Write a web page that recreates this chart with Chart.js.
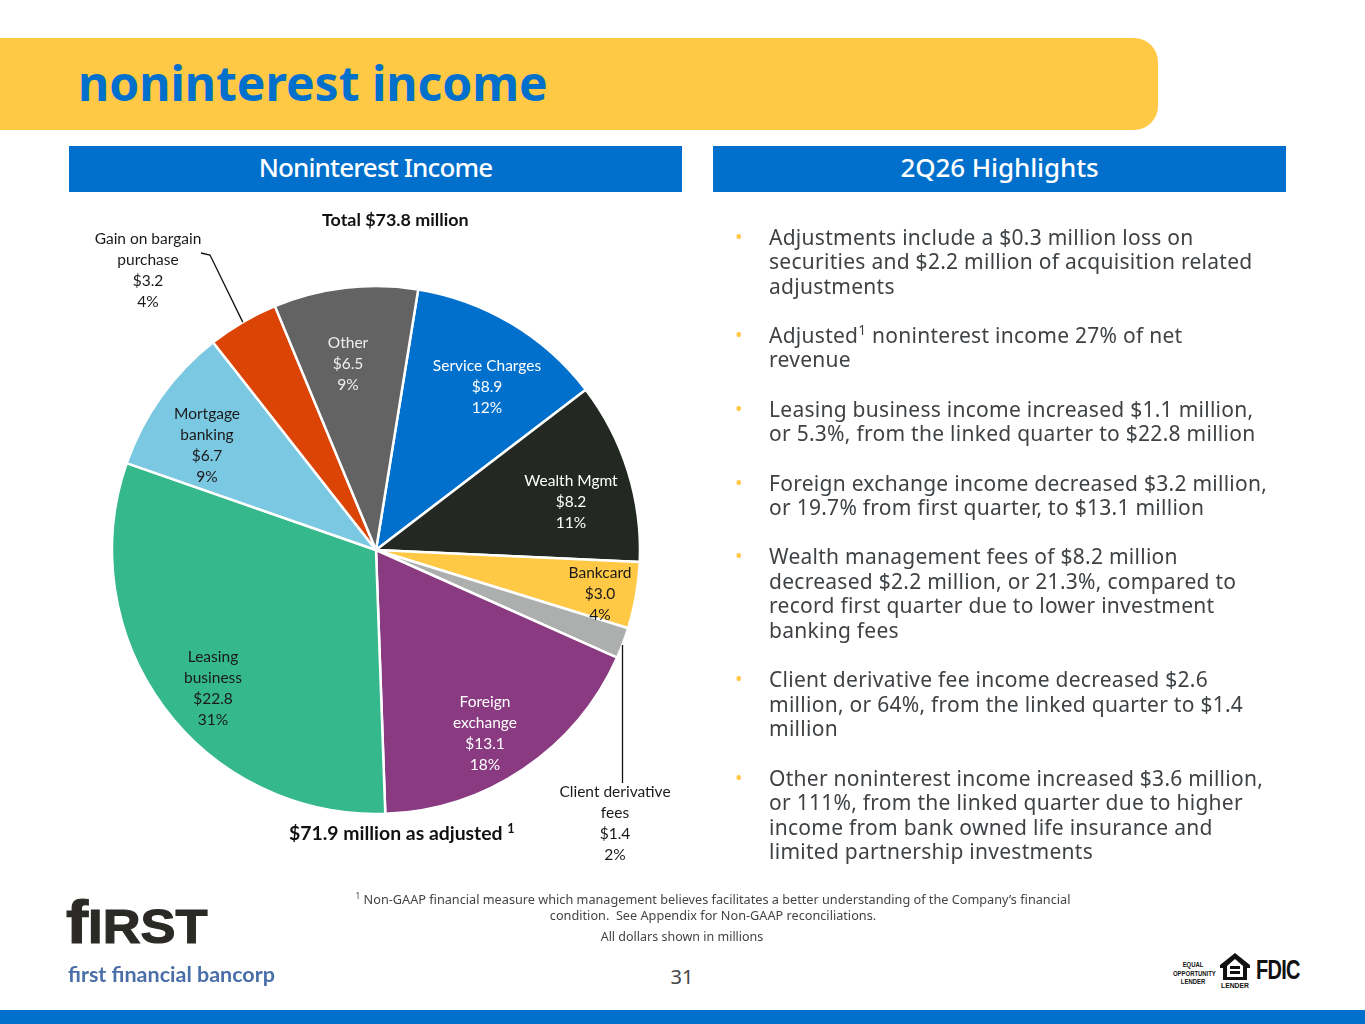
<!DOCTYPE html>
<html>
<head>
<meta charset="utf-8">
<title>noninterest income</title>
<script src="https://cdn.jsdelivr.net/npm/chart.js@4"></script>
<style>
  html, body { margin: 0; padding: 0; background: #fff; }
  #page { position: relative; width: 1365px; height: 1024px; overflow: hidden; font-family: "Noto Sans", sans-serif; }
  #page > div, #page > svg, #page > canvas { position: absolute; }
  .band { background: #FFC845; left: 0; top: 38px; width: 1158px; height: 92px; border-radius: 0 24px 24px 0; }
  .title { left: 78px; top: 50px; font-size: 48px; font-weight: 700; color: #0070CC; line-height: 66px; white-space: nowrap; }
  .head { background: #0070CC; color: #fff; top: 146px; height: 46px; line-height: 42px; text-align: center; font-size: 26px; font-weight: 500; }
  .bullet { left: 735px; color: #FFC845; font-size: 20px; line-height: 24.6px; }
  .copy { left: 769px; color: #3f4245; font-size: 21px; letter-spacing: 0.27px; line-height: 24.6px; white-space: nowrap; }
  .bold { font-family: Lato, sans-serif; font-weight: 700; color: #111; white-space: nowrap; }
  .note { font-size: 12.7px; color: #444; text-align: center; white-space: nowrap; line-height: 16px; }
  sup { font-size: 65%; line-height: 0; }
</style>
</head>
<body>
<div id="page">
  <div class="band"></div>
  <div class="title">noninterest income</div>
  <div class="head" style="left:69px;width:613px;letter-spacing:-0.85px">Noninterest Income</div>
  <div class="head" style="left:713px;width:573px;letter-spacing:-0.1px">2Q26 Highlights</div>

  <canvas id="pie" style="left:0;top:200px;width:752px;height:700px"></canvas>
  <div class="bold" style="left:322px;top:208px;font-size:17.9px">Total $73.8 million</div>
  <div class="bold" style="left:289px;top:821px;font-size:19.4px">$71.9 million as adjusted <sup>1</sup></div>

  <div id="notes"></div>

  <div class="note" style="left:313px;width:800px;top:891px"><sup>1</sup> Non-GAAP financial measure which management believes facilitates a better understanding of the Company’s financial<br>condition.&nbsp; See Appendix for Non-GAAP reconciliations.</div>
  <div class="note" style="left:482px;width:400px;top:929px;font-size:12.5px">All dollars shown in millions</div>
  <div style="left:582px;width:200px;top:963px;text-align:center;font-size:20px;color:#444">31</div>

  <div style="left:66px;top:889px;height:66px;line-height:66px;font-family:'Liberation Sans',sans-serif;font-weight:700;color:#2b2a26;-webkit-text-stroke:1.2px #2b2a26;transform:scaleX(1.07);transform-origin:left;white-space:nowrap"><span style="font-size:62px">f</span><span style="font-size:49px">IRST</span></div>
  <div style="left:68px;top:961px;font:700 21.5px Lato,sans-serif;color:#4a6fa8;white-space:nowrap">first financial bancorp</div>

  <div style="left:1166px;top:961px;width:54px;text-align:center;font:700 8px/8.5px 'Liberation Sans',sans-serif;color:#111;transform:scaleX(0.74)">EQUAL<br>OPPORTUNITY<br>LENDER</div>
  <svg style="left:1219px;top:952px" width="32" height="38" viewBox="0 0 32 38">
    <path d="M16 1 L31 13 V16 H28 V28 H4 V16 H1 V13 Z M8 14 V25 H24 V14 L16 7 Z" fill="#111" fill-rule="evenodd"/>
    <rect x="11" y="14" width="10" height="3" fill="#111"/><rect x="11" y="19" width="10" height="3" fill="#111"/>
    <text x="16" y="36" text-anchor="middle" font-family="Liberation Sans" font-weight="700" font-size="8" textLength="28" lengthAdjust="spacingAndGlyphs" fill="#111">LENDER</text>
  </svg>
  <div style="left:1256px;top:955px;font:700 27px/30px 'Liberation Sans',sans-serif;color:#111;letter-spacing:-1px;transform:scaleX(0.74);transform-origin:left">FDIC</div>

  <div style="left:0;top:1010px;width:1365px;height:14px;background:#0070CC"></div>
</div>

<script>
// data
const categories = ['Service Charges', 'Wealth Mgmt', 'Bankcard', 'Client derivative fees', 'Foreign exchange', 'Leasing business', 'Mortgage banking', 'Gain on bargain purchase', 'Other'];
const amounts = [8.9, 8.2, 3.0, 1.4, 13.1, 22.8, 6.7, 3.2, 6.5];
const percents = ['12%', '11%', '4%', '2%', '18%', '31%', '9%', '4%', '9%'];
const sliceColors = ['#0070CC', '#232823', '#FFC845', '#ADAFAE', '#8A3A80', '#34B88C', '#7BC8E2', '#DC4405', '#636363'];

const highlights = [
  ['Adjustments include a $0.3 million loss on', 'securities and $2.2 million of acquisition related', 'adjustments'],
  ['Adjusted<sup>1</sup> noninterest income 27% of net', 'revenue'],
  ['Leasing business income increased $1.1 million,', 'or 5.3%, from the linked quarter to $22.8 million'],
  ['Foreign exchange income decreased $3.2 million,', 'or 19.7% from first quarter, to $13.1 million'],
  ['Wealth management fees of $8.2 million', 'decreased $2.2 million, or 21.3%, compared to', 'record first quarter due to lower investment', 'banking fees'],
  ['Client derivative fee income decreased $2.6', 'million, or 64%, from the linked quarter to $1.4', 'million'],
  ['Other noninterest income increased $3.6 million,', 'or 111%, from the linked quarter due to higher', 'income from bank owned life insurance and', 'limited partnership investments']
];

// right hand text
let html = '';
let y = 224.5;
highlights.forEach(function (lines) {
  html += '<div class="bullet" style="position:absolute;top:' + y + 'px">&bull;</div>';
  html += '<div class="copy" style="position:absolute;top:' + y + 'px">' + lines.join('<br>') + '</div>';
  y += lines.length * 24.6 + 24.6;
});
document.getElementById('notes').innerHTML = html;

// label block centres relative to the pie centre, wrapped lines per slice
const labelLayout = [
  { dx: 111, dy: -163, lines: ['Service Charges'], color: '#fff' },
  { dx: 195, dy: -48, lines: ['Wealth Mgmt'], color: '#fff' },
  { dx: 224, dy: 44, lines: ['Bankcard'], color: '#1a1a1a' },
  { dx: 239, dy: 273, lines: ['Client derivative', 'fees'], color: '#1a1a1a' },
  { dx: 109, dy: 183, lines: ['Foreign', 'exchange'], color: '#fff' },
  { dx: -163, dy: 138, lines: ['Leasing', 'business'], color: '#1a1a1a' },
  { dx: -169, dy: -105, lines: ['Mortgage', 'banking'], color: '#1a1a1a' },
  { dx: -228, dy: -280, lines: ['Gain on bargain', 'purchase'], color: '#1a1a1a' },
  { dx: -28, dy: -186, lines: ['Other'], color: '#eee' }
];

const sliceLabels = {
  id: 'sliceLabels',
  afterDatasetsDraw(chart) {
    const ctx = chart.ctx;
    const arcs = chart.getDatasetMeta(0).data;
    const cx = arcs[0].x, cy = arcs[0].y;
    ctx.save();

    // leader lines start on the outer edge of the small slices
    const gainArc = arcs[7];
    const mid = (gainArc.startAngle + gainArc.endAngle) / 2;
    ctx.strokeStyle = '#111';
    ctx.lineWidth = 1.3;
    ctx.beginPath();
    ctx.moveTo(cx + Math.cos(mid) * gainArc.outerRadius, cy + Math.sin(mid) * gainArc.outerRadius);
    ctx.lineTo(cx - 166, cy - 295);
    ctx.lineTo(cx - 175, cy - 297);
    ctx.stroke();
    ctx.beginPath();
    ctx.moveTo(cx + 246.5, cy + 95);
    ctx.lineTo(cx + 246.5, cy + 233);
    ctx.stroke();

    ctx.font = "15.5px Lato, sans-serif";
    ctx.textAlign = 'center';
    ctx.textBaseline = 'middle';
    labelLayout.forEach(function (l, i) {
      const rows = l.lines.concat(['$' + amounts[i].toFixed(1), percents[i]]);
      ctx.fillStyle = l.color;
      rows.forEach(function (r, j) {
        ctx.fillText(r, cx + l.dx, cy + l.dy + (j - (rows.length - 1) / 2) * 21);
      });
    });
    ctx.restore();
  }
};

new Chart(document.getElementById('pie'), {
  type: 'pie',
  data: {
    labels: categories,
    datasets: [{
      data: amounts,
      backgroundColor: sliceColors,
      borderColor: '#fff',
      borderWidth: 2.5,
      radius: 264
    }]
  },
  options: {
    responsive: false,
    animation: false,
    rotation: 9.2,
    layout: { padding: 0 },
    plugins: { legend: { display: false }, tooltip: { enabled: false } }
  },
  plugins: [sliceLabels]
});
</script>
</body>
</html>
